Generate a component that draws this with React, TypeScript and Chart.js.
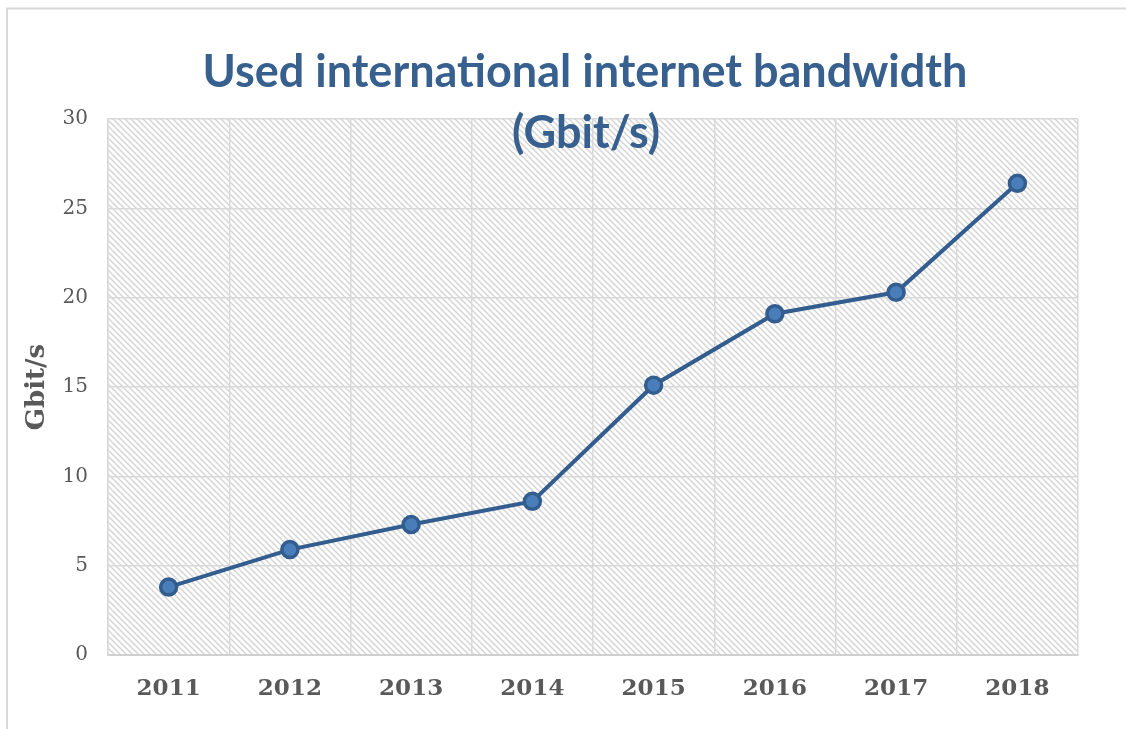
import React, { useEffect, useRef } from "react";
import { Chart, registerables } from "chart.js";

Chart.register(...registerables);

const years = ["2011", "2012", "2013", "2014", "2015", "2016", "2017", "2018"];
const bandwidth = [3.8, 5.9, 7.3, 8.6, 15.1, 19.1, 20.3, 26.4];
const yMin = 0;
const yMax = 30;
const yStep = 5;
const titleLines = ["Used international internet bandwidth", "(Gbit/s)"];
const yAxisTitle = "Gbit/s";

const TEXT_GRAY = "#595959";
const GRID_GRAY = "#d9d9d9";
const LINE_BLUE = "#335d8f";
const MARKER_FILL = "#4a7ebb";
const TITLE_BLUE = "#37608f";

function makeHatch(): CanvasPattern | string {
  const size = 6;
  const c = document.createElement("canvas");
  c.width = size;
  c.height = size;
  const g = c.getContext("2d");
  if (!g) return "#ffffff";
  g.fillStyle = "#ffffff";
  g.fillRect(0, 0, size, size);
  g.strokeStyle = "#d4d4d4";
  g.lineWidth = 1.4;
  g.beginPath();
  g.moveTo(-1, -1);
  g.lineTo(size + 1, size + 1);
  g.moveTo(-1, size - 1);
  g.lineTo(1, size + 1);
  g.moveTo(size - 1, -1);
  g.lineTo(size + 1, 1);
  g.stroke();
  const p = g.createPattern(c, "repeat");
  return p || "#ffffff";
}

export default function App() {
  const ref = useRef<HTMLCanvasElement | null>(null);

  useEffect(() => {
    if (!ref.current) return;
    const hatch = makeHatch();

    const hatchPlugin = {
      id: "hatchBg",
      beforeDraw(chart: any) {
        const { ctx, chartArea } = chart;
        ctx.save();
        ctx.fillStyle = "#ffffff";
        ctx.fillRect(0, 0, chart.width, chart.height);
        ctx.fillStyle = hatch;
        ctx.fillRect(chartArea.left, chartArea.top, chartArea.right - chartArea.left, chartArea.bottom - chartArea.top);
        ctx.restore();
      },
    };

    const overlayPlugin = {
      id: "overlay",
      afterDraw(chart: any) {
        const { ctx } = chart;
        ctx.save();
        // outer chart frame
        ctx.strokeStyle = GRID_GRAY;
        ctx.lineWidth = 2;
        ctx.beginPath();
        ctx.moveTo(7, chart.height);
        ctx.lineTo(7, 8.5);
        ctx.lineTo(chart.width, 8.5);
        ctx.stroke();
        // title
        ctx.fillStyle = TITLE_BLUE;
        ctx.font = "bold 45px Lato";
        ctx.textAlign = "center";
        ctx.textBaseline = "alphabetic";
        ctx.fillText(titleLines[0], 585, 87);
        ctx.fillText(titleLines[1], 586, 148);
        ctx.restore();
      },
    };

    const chart = new Chart(ref.current, {
      type: "line",
      data: {
        labels: years,
        datasets: [
          {
            data: bandwidth,
            borderColor: LINE_BLUE,
            borderWidth: 4,
            pointRadius: 8,
            pointBorderWidth: 3.5,
            pointBackgroundColor: MARKER_FILL,
            pointBorderColor: LINE_BLUE,
            tension: 0,
          },
        ],
      },
      options: {
        responsive: false,
        animation: false,
        layout: { padding: { top: 119, right: 48, left: 0, bottom: 0 } },
        plugins: {
          legend: { display: false },
          title: { display: false },
          tooltip: { enabled: false },
        },
        scales: {
          x: {
            offset: true,
            grid: { offset: true, color: GRID_GRAY, lineWidth: 1.5, drawTicks: false },
            border: { color: "#d0d0d0", width: 2 },
            ticks: {
              color: TEXT_GRAY,
              font: { family: "DejaVu Serif", size: 23, weight: "bold" },
              padding: 20,
            },
            afterFit(scale: any) {
              scale.height = 74;
            },
          },
          y: {
            min: yMin,
            max: yMax,
            ticks: {
              stepSize: yStep,
              color: TEXT_GRAY,
              font: { family: "DejaVu Serif", size: 20 },
              padding: 20,
            },
            grid: { color: GRID_GRAY, lineWidth: 1.5, drawTicks: false },
            border: { color: GRID_GRAY, width: 1.5 },
            title: {
              display: true,
              text: yAxisTitle,
              color: TEXT_GRAY,
              font: { family: "DejaVu Serif", size: 26, weight: "bold" },
              padding: { top: 22, bottom: 0 },
            },
            afterFit(scale: any) {
              scale.width = 108;
            },
          },
        },
      },
      plugins: [hatchPlugin, overlayPlugin],
    });
    return () => chart.destroy();
  }, []);

  return (
    <div style={{ position: "fixed", left: 0, top: 0, width: 1126, height: 729, background: "#fff" }}>
      <canvas ref={ref} width={1126} height={729} style={{ display: "block" }} />
    </div>
  );
}
